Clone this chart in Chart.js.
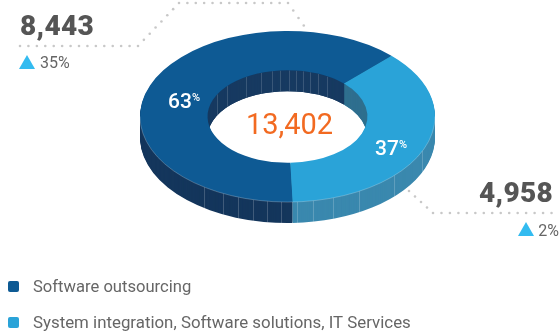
<!DOCTYPE html>
<html><head><meta charset="utf-8">
<style>html,body{margin:0;padding:0;background:#fff;overflow:hidden}canvas{display:block}</style>
<script src="https://cdn.jsdelivr.net/npm/chart.js@4"></script></head>
<body><canvas id="c" width="559" height="334"></canvas>
<script>
const categories=["Software outsourcing","System integration, Software solutions, IT Services"];
const values=[8443,4958];
const shares=["63","37"];
const growth=["35%","2%"];
const valueLabels=["8,443","4,958"];
const totalLabel="13,402";
const topColors=["#0e5a94","#2aa3d8"];
const wallColors=["#14365c","#3a88ae"];
const innerWallColors=["#173a61","#2f6f8f"];

const SQUASH=0.58, DEPTH=21, CX=287.5, CY=116.5, PLAIN_CY=147.5;
const FONT="Roboto, sans-serif";
function squash(ctx,dy){ctx.translate(0,CY+dy);ctx.scale(1,SQUASH);ctx.translate(0,-PLAIN_CY);}
function tinted(el,color){const c=Object.create(el);c.options=Object.assign({},el.options,{backgroundColor:color,borderWidth:0,borderColor:color,offset:0,spacing:0,circular:true,borderRadius:0,borderJoinStyle:'round'});return c;}
function dots(ctx,pts,step){ctx.fillStyle="#c8c8c8";for(let i=0;i<pts.length-1;i++){const [a,b]=pts[i],[c,d]=pts[i+1];const L=Math.hypot(c-a,d-b),n=Math.round(L/step);for(let k=0;k<n;k++){ctx.beginPath();ctx.arc(a+(c-a)*k/n,b+(d-b)*k/n,1.3,0,7);ctx.fill();}}}
function text(ctx,s,x,y,font,color,align,ls){ctx.font=font;ctx.fillStyle=color;ctx.textAlign=align||"left";ctx.textBaseline="alphabetic";ctx.letterSpacing=ls||"0px";ctx.fillText(s,x,y);ctx.letterSpacing="0px";}
function tri(ctx,x,y,w,h){ctx.fillStyle="#33bbf0";ctx.beginPath();ctx.moveTo(x,y+h);ctx.lineTo(x+w/2,y);ctx.lineTo(x+w,y+h);ctx.closePath();ctx.fill();}

const solid={id:"solid",
 beforeDraw(chart){const ctx=chart.ctx;
  dots(ctx,[[20,46],[138,46],[179,3],[288,3],[309,33]],8.3);
  dots(ctx,[[409,191],[433,213],[560,213]],8.3);
 },
 beforeDatasetsDraw(chart){
  const ctx=chart.ctx,arcs=chart.getDatasetMeta(0).data,a0=arcs[0];
  ctx.save();
  for(let d=DEPTH;d>=1;d--){ctx.save();squash(ctx,d);arcs.forEach((el,i)=>tinted(el,wallColors[i]).draw(ctx));ctx.restore();}
  ctx.restore();
  ctx.save();ctx.beginPath();ctx.ellipse(a0.x,CY,a0.innerRadius,a0.innerRadius*SQUASH,0,0,7);ctx.clip();
  for(let d=DEPTH;d>=1;d--){ctx.save();squash(ctx,d);arcs.forEach((el,i)=>tinted(el,innerWallColors[i]).draw(ctx));ctx.restore();}
  ctx.strokeStyle="rgba(255,255,255,.22)";ctx.lineWidth=.7;
  [-70,-60,-41,-26,-15,-7,2,9,16,23,31,40].forEach(dx=>{const y=CY-a0.innerRadius*SQUASH*Math.sqrt(1-dx*dx/(a0.innerRadius*a0.innerRadius));ctx.beginPath();ctx.moveTo(a0.x+dx,y);ctx.lineTo(a0.x+dx,y+DEPTH);ctx.stroke();});
  ctx.restore();
  ctx.save();ctx.strokeStyle="rgba(255,255,255,.28)";ctx.lineWidth=.7;
  [-83,-64,-49,-34,-20,-6,5,10,26,46,72,107,135].forEach(dx=>{const y=CY+a0.outerRadius*SQUASH*Math.sqrt(1-dx*dx/(a0.outerRadius*a0.outerRadius));ctx.beginPath();ctx.moveTo(a0.x+dx,y);ctx.lineTo(a0.x+dx,y+DEPTH);ctx.stroke();});
  ctx.restore();
  ctx.save();squash(ctx,0);
 },
 afterDatasetsDraw(chart){
  const ctx=chart.ctx;ctx.restore();
  const a0=chart.getDatasetMeta(0).data[0];
  ctx.save();ctx.strokeStyle="rgba(255,255,255,.4)";ctx.lineWidth=.6;ctx.beginPath();ctx.ellipse(a0.x,CY,a0.outerRadius,a0.outerRadius*SQUASH,0,0,Math.PI);ctx.stroke();ctx.restore();
  text(ctx,totalLabel,CX+2,134,"400 29px "+FONT,"#f26a21","center");
  text(ctx,shares[0],168,108,"500 21px "+FONT,"#fff");
  text(ctx,"%",192,101,"500 11px "+FONT,"#fff");
  text(ctx,shares[1],375,155,"500 21px "+FONT,"#fff");
  text(ctx,"%",399,148,"500 11px "+FONT,"#fff");
  text(ctx,valueLabels[0],20,35,"900 28px "+FONT,"#555","left","0.3px");
  tri(ctx,19,55,16,14);
  text(ctx,growth[0],40,68,"400 16px "+FONT,"#666");
  text(ctx,valueLabels[1],553,202,"900 28px "+FONT,"#555","right","0.3px");
  tri(ctx,518,222,16,14);
  text(ctx,growth[1],559,236,"400 16px "+FONT,"#666","right");
  [[281,292],[317,328]].forEach(([t,b],i)=>{ctx.fillStyle=topColors[i];ctx.beginPath();ctx.roundRect(8,t,11,b-t,2);ctx.fill();});
  text(ctx,categories[0],33,292,"400 16.6px "+FONT,"#666");
  text(ctx,categories[1],33,328,"400 16.85px "+FONT,"#666");
 }};

new Chart(document.getElementById("c"),{
 type:"doughnut",
 data:{labels:categories,datasets:[{data:values,backgroundColor:topColors,borderWidth:0,hoverOffset:0}]},
 options:{responsive:false,animation:false,rotation:178,cutout:"54.2%",
  layout:{padding:{left:140,right:124,top:0,bottom:39}},
  plugins:{legend:{display:false},tooltip:{enabled:false}}},
 plugins:[solid]});
</script></body></html>
